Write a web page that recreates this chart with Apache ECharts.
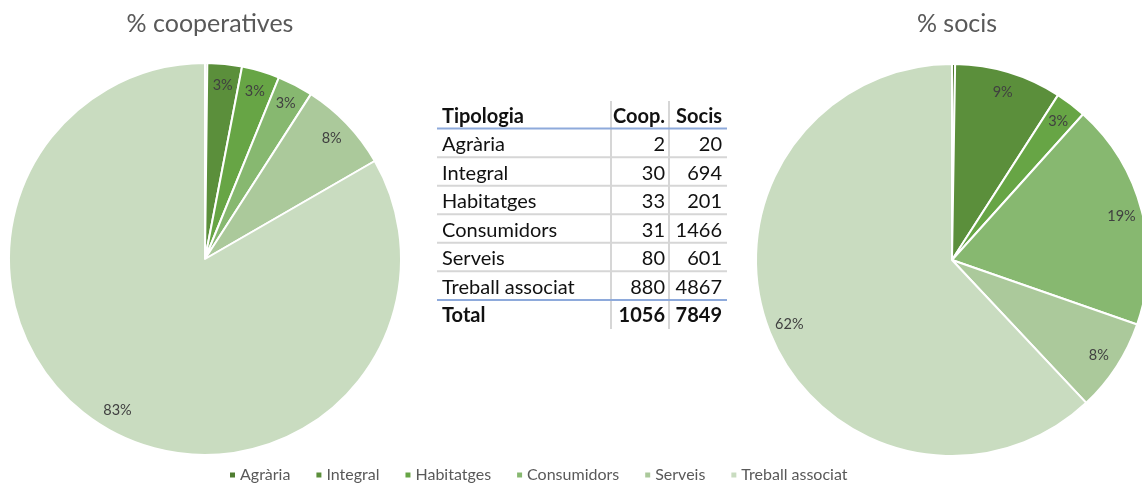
<!DOCTYPE html>
<html>
<head>
<meta charset="utf-8">
<script src="https://cdn.jsdelivr.net/npm/echarts@6/dist/echarts.min.js"></script>
<style>
  html, body { margin: 0; padding: 0; background: #fff; }
  #chart { width: 1142px; height: 485px; }
</style>
</head>
<body>
<div id="chart"></div>
<script>
  // dades
  const categories = ['Agrària', 'Integral', 'Habitatges', 'Consumidors', 'Serveis', 'Treball associat']
  const coop = [2, 30, 33, 31, 80, 880]
  const socis = [20, 694, 201, 1466, 601, 4867]
  const tableHeaders = ['Tipologia', 'Coop.', 'Socis']
  const totalLabel = 'Total'
  const titles = ['% cooperatives', '% socis']

  const colors = ['#4f7d31', '#5b8f3b', '#67a545', '#87b870', '#abc99b', '#c9dcc0']
  const font = 'Lato, "Open Sans", sans-serif'

  const sum = (arr) => arr.reduce((a, b) => a + b, 0)

  function pieData(values) {
    return categories.map((name, i) => ({
      name,
      value: values[i],
      itemStyle: { color: colors[i] },
    }))
  }

  function pctLabel(p) {
    const v = Math.round(p.percent)
    return v > 0 ? `${v}%` : ''
  }

  function pieSeries(values, center) {
    return [
      {
        type: 'pie',
        center,
        radius: [0, 196],
        startAngle: 90,
        clockwise: true,
        silent: true,
        label: { show: false },
        labelLine: { show: false },
        itemStyle: { borderColor: '#fff', borderWidth: 2 },
        data: pieData(values),
      },
      {
        // anella transparent només per situar les etiquetes prop de la vora
        type: 'pie',
        center,
        radius: [148, 196],
        startAngle: 90,
        clockwise: true,
        silent: true,
        avoidLabelOverlap: false,
        itemStyle: { color: 'transparent', borderWidth: 0 },
        label: {
          show: true,
          position: 'inside',
          formatter: pctLabel,
          color: '#404040',
          fontSize: 14.5,
          fontFamily: font,
        },
        labelLine: { show: false },
        emphasis: { disabled: true },
        data: categories.map((name, i) => ({ name: name + ' ', value: values[i] })),
      },
    ]
  }

  // taula
  function buildTable() {
    const els = []
    const xL = 442, xC = 665, xS = 722
    const lineL = 437, lineR = 727
    const headY = 117, row0 = 145, rowH = 28.5
    const txt = (x, y, text, align, bold) => ({
      type: 'text',
      x, y,
      style: {
        text: String(text),
        align,
        verticalAlign: 'middle',
        fill: '#111',
        font: `${bold ? 'bold ' : ''}20px ${font}`,
      },
    })
    const hline = (y, color) => ({
      type: 'line',
      shape: { x1: lineL, y1: y, x2: lineR, y2: y },
      style: { stroke: color, lineWidth: 2 },
    })
    // línies verticals
    ;[611, 669].forEach((x) => {
      els.push({
        type: 'line',
        shape: { x1: x, y1: 101, x2: x, y2: 329 },
        style: { stroke: '#d6d6d6', lineWidth: 2 },
      })
    })
    categories.slice(0, -1).forEach((_, i) => {
      els.push(hline(row0 + rowH * i + rowH / 2 - 2, '#d6d6d6'))
    })
    els.push(hline(128.5, '#8eaadb'))
    els.push(hline(300, '#8eaadb'))

    els.push(txt(xL, headY, tableHeaders[0], 'left', true))
    els.push(txt(xC, headY, tableHeaders[1], 'right', true))
    els.push(txt(xS, headY, tableHeaders[2], 'right', true))
    categories.forEach((name, i) => {
      const y = row0 + rowH * i
      els.push(txt(xL, y, name, 'left', false))
      els.push(txt(xC, y, coop[i], 'right', false))
      els.push(txt(xS, y, socis[i], 'right', false))
    })
    const yT = row0 + rowH * categories.length
    els.push(txt(xL, yT, totalLabel, 'left', true))
    els.push(txt(xC, yT, sum(coop), 'right', true))
    els.push(txt(xS, yT, sum(socis), 'right', true))
    return els
  }

  const chart = echarts.init(document.getElementById('chart'), null, { renderer: 'canvas' })
  chart.setOption({
    animation: false,
    backgroundColor: '#fff',
    title: [
      {
        text: titles[0],
        left: 205, top: 6,
        textAlign: 'center',
        textStyle: { color: '#595959', fontSize: 25, fontWeight: 'normal', fontFamily: font },
      },
      {
        text: titles[1],
        left: 952, top: 6,
        textAlign: 'center',
        textStyle: { color: '#595959', fontSize: 25, fontWeight: 'normal', fontFamily: font },
      },
    ],
    legend: {
      data: categories,
      left: 223,
      top: 462,
      icon: 'rect',
      itemWidth: 7,
      itemHeight: 7,
      itemGap: 24,
      textStyle: { color: '#595959', fontSize: 16, fontFamily: font, padding: [0, 0, 0, -1] },
      selectedMode: false,
    },
    series: [...pieSeries(coop, [205, 259]), ...pieSeries(socis, [952, 260])],
    graphic: buildTable(),
  })
</script>
</body>
</html>
